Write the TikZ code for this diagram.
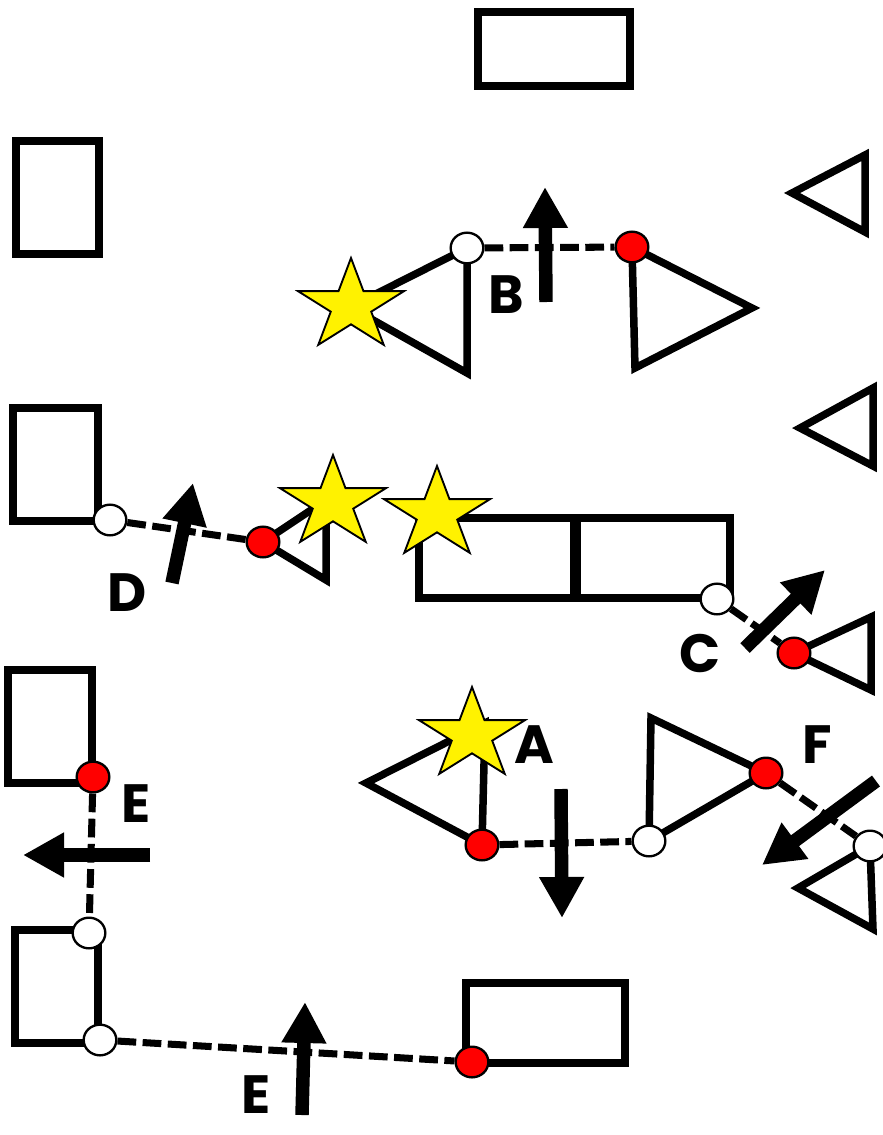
\documentclass[tikz,border=0pt]{standalone}
\usepackage{fontspec}
\setmainfont{Poppins}
\usetikzlibrary{arrows.meta,shapes.geometric,backgrounds}

\begin{document}
\begin{tikzpicture}[x=0.03cm,y=-0.03cm,
	figure/.style={line width=6.4pt},
	pass/.style={line width=6pt, dash pattern=on 16pt off 5.5pt},
	run/.style={line width=11.5pt, -{Triangle[length=35pt,width=36pt]}},
	dot/.style={ellipse, draw, line width=2pt, minimum width=0.98cm, minimum height=0.92cm, inner sep=0pt},
	reddot/.style={dot, fill=red},
	whitedot/.style={dot, fill=white},
	ballstar/.style={star, star points=5, star point ratio=2.618, draw, line width=1.6pt, fill=yellow, minimum size=2.88cm, inner sep=0pt, xscale=1.16},
	letter/.style={inner sep=0pt, font=\fontsize{46}{46}\selectfont\bfseries}]

	\useasboundingbox (0,0) rectangle (882,1135);

	% ---- dots

	\node[whitedot] (Bw) at (467,248) {};
	\node[reddot] (Br) at (632,247) {};
	\node[whitedot] (Dw) at (110,520) {};
	\node[reddot] (Dr) at (263,542) {};
	\node[whitedot] (Cw) at (717,599) {};
	\node[reddot] (Cr) at (794,653) {};
	\node[reddot] (Er) at (93,777) {};
	\node[whitedot] (Ew) at (89,933) {};
	\node[whitedot] (Ew2) at (100,1040) {};
	\node[reddot] (Er2) at (472,1062) {};
	\node[reddot] (Ar) at (482,845) {};
	\node[whitedot] (Aw) at (649,841) {};
	\node[reddot] (Fr) at (766,773) {};
	\node[whitedot] (Fw) at (870,846) {};

	% ---- boxes and triangles

	\begin{pgfonlayer}{background}
		% boxes
		\draw[figure] (478,12) rectangle (630,86);
		\draw[figure] (16,141) rectangle (99,254);
		\draw[figure] (13,408) rectangle (98,521);
		\draw[figure] (419,518) rectangle (574,598);
		\draw[figure] (577,518) rectangle (730,598);
		\draw[figure] (8,670) rectangle (92,783);
		\draw[figure] (15,930) rectangle (98,1043);
		\draw[figure] (466,983) rectangle (625,1063);

		% triangles
		\draw[figure] (792,193) -- (865,155) -- (865,232) -- cycle;
		\draw[figure] (800,428) -- (873,388) -- (873,466) -- cycle;
		\draw[figure] (Bw.center) -- (350,307) -- (467,373) -- cycle;
		\draw[figure] (Br.center) -- (752,308) -- (635,368) -- cycle;
		\draw[figure] (Dr.center) -- (326,500) -- (326,580) -- cycle;
		\draw[figure] (Cr.center) -- (871,617) -- (871,690) -- cycle;
		\draw[figure] (Ar.center) -- (366,783) -- (485,723) -- cycle;
		\draw[figure] (Aw.center) -- (651,718) -- (Fr.center) -- cycle;
		\draw[figure] (Fw.center) -- (798,888) -- (873,929) -- cycle;
	\end{pgfonlayer}

	% ---- passes

	\draw[pass] (Bw) -- (Br);
	\draw[pass] (Dw) -- (Dr);
	\draw[pass] (Cw) -- (Cr);
	\draw[pass] (Er) -- (Ew);
	\draw[pass] (Ew2) -- (Er2);
	\draw[pass] (Ar) -- (Aw);
	\draw[pass] (Fr) -- (Fw);

	% ---- runs

	\coordinate (Bt) at (546,302);  \coordinate (Bh) at (545,187);
	\coordinate (Dt) at (172,583);  \coordinate (Dh) at (193,483);
	\coordinate (Ct) at (745,648);  \coordinate (Ch) at (825,570);
	\coordinate (Et) at (150,855);  \coordinate (Eh) at (23,855);
	\coordinate (At) at (561,789);  \coordinate (Ah) at (562,918);
	\coordinate (Ft) at (876,781);  \coordinate (Fh) at (762,865);
	\coordinate (Et2) at (302,1115); \coordinate (Eh2) at (305,1002);

	\foreach \t/\h in {Bt/Bh,Dt/Dh,Ct/Ch,Et/Eh,At/Ah,Ft/Fh,Et2/Eh2} {
		\draw[run] (\t) -- (\h);
	}

	% ---- balls

	\node[ballstar] (sB) at (351,306) {};
	\node[ballstar] (sD1) at (333,503) {};
	\node[ballstar] (sD2) at (437,514) {};
	\node[ballstar] (sA) at (472,735) {};

	% ---- labels

	\node[letter] (lB) at (506,295) {B};
	\node[letter] (lD) at (127,593) {D};
	\node[letter] (lC) at (700,653) {C};
	\node[letter] (lA) at (534,745) {A};
	\node[letter] (lF) at (817,745) {F};
	\node[letter] (lE) at (136,804) {E};
	\node[letter] (lE2) at (256,1095) {E};

\end{tikzpicture}
\end{document}
